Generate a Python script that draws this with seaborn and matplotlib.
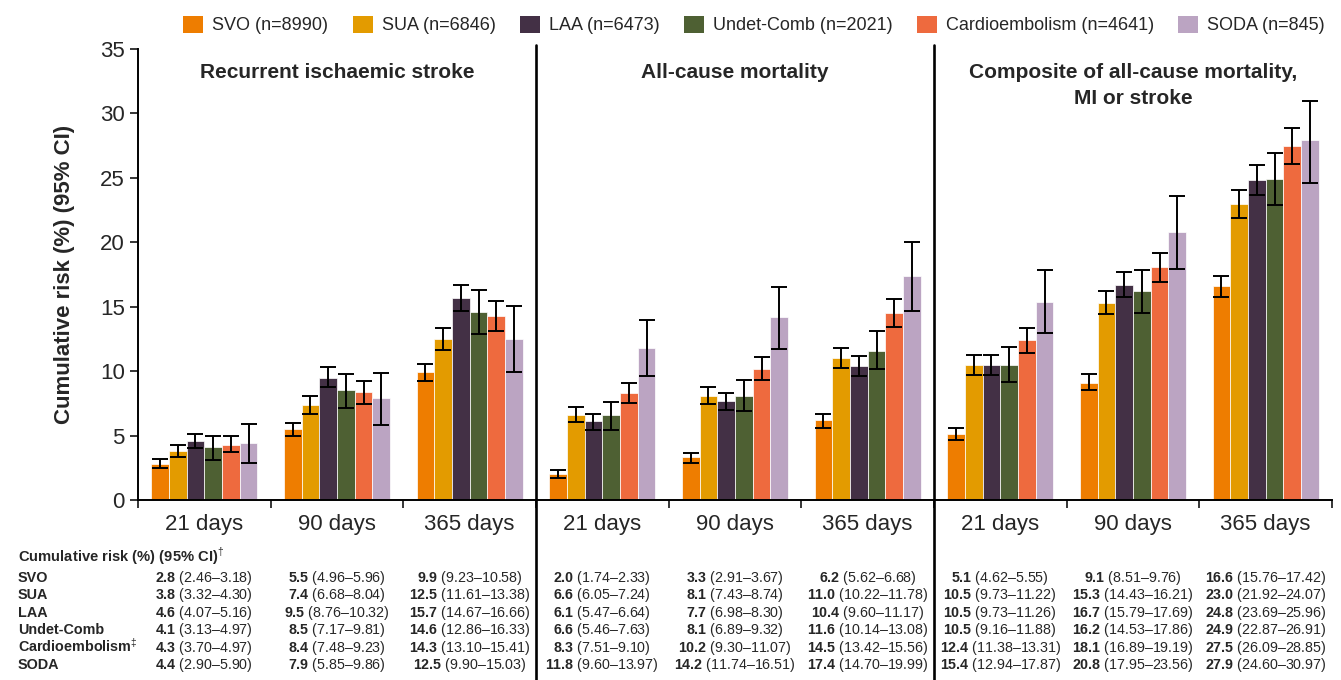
import numpy as np
import pandas as pd
import matplotlib
matplotlib.use("Agg")
import matplotlib.pyplot as plt
import matplotlib.transforms as mtransforms
from matplotlib.patches import Patch
import seaborn as sns

# ---------------- data ----------------
subtypes = ["SVO", "SUA", "LAA", "Undet-Comb", "Cardioembolism", "SODA"]
n_patients = [8990, 6846, 6473, 2021, 4641, 845]
table_labels = ["SVO", "SUA", "LAA", "Undet-Comb", "Cardioembolism$^{\u2021}$", "SODA"]
outcomes = ["Recurrent ischaemic stroke", "All-cause mortality",
            "Composite of all-cause mortality,\nMI or stroke"]
timepoints = ["21 days", "90 days", "365 days"]
colors = ["#EE7D00", "#E39B00", "#433045", "#4E6033", "#EE6A3E", "#BBA4C2"]

# rows: timepoint (21, 90, 365 days); columns: subtypes
stroke_risk = [[2.8, 3.8, 4.6, 4.1, 4.3, 4.4],
               [5.5, 7.4, 9.5, 8.5, 8.4, 7.9],
               [9.9, 12.5, 15.7, 14.6, 14.3, 12.5]]
stroke_lo = [[2.46, 3.32, 4.07, 3.13, 3.70, 2.90],
             [4.96, 6.68, 8.76, 7.17, 7.48, 5.85],
             [9.23, 11.61, 14.67, 12.86, 13.10, 9.90]]
stroke_hi = [[3.18, 4.30, 5.16, 4.97, 4.97, 5.90],
             [5.96, 8.04, 10.32, 9.81, 9.23, 9.86],
             [10.58, 13.38, 16.66, 16.33, 15.41, 15.03]]

mort_risk = [[2.0, 6.6, 6.1, 6.6, 8.3, 11.8],
             [3.3, 8.1, 7.7, 8.1, 10.2, 14.2],
             [6.2, 11.0, 10.4, 11.6, 14.5, 17.4]]
mort_lo = [[1.74, 6.05, 5.47, 5.46, 7.51, 9.60],
           [2.91, 7.43, 6.98, 6.89, 9.30, 11.74],
           [5.62, 10.22, 9.60, 10.14, 13.42, 14.70]]
mort_hi = [[2.33, 7.24, 6.64, 7.63, 9.10, 13.97],
           [3.67, 8.74, 8.30, 9.32, 11.07, 16.51],
           [6.68, 11.78, 11.17, 13.08, 15.56, 19.99]]

comp_risk = [[5.1, 10.5, 10.5, 10.5, 12.4, 15.4],
             [9.1, 15.3, 16.7, 16.2, 18.1, 20.8],
             [16.6, 23.0, 24.8, 24.9, 27.5, 27.9]]
comp_lo = [[4.62, 9.73, 9.73, 9.16, 11.38, 12.94],
           [8.51, 14.43, 15.79, 14.53, 16.89, 17.95],
           [15.76, 21.92, 23.69, 22.87, 26.09, 24.60]]
comp_hi = [[5.55, 11.22, 11.26, 11.88, 13.31, 17.87],
           [9.76, 16.21, 17.69, 17.86, 19.19, 23.56],
           [17.42, 24.07, 25.96, 26.91, 28.85, 30.97]]

risk_all = [stroke_risk, mort_risk, comp_risk]
lo_all = [stroke_lo, mort_lo, comp_lo]
hi_all = [stroke_hi, mort_hi, comp_hi]

# ---------------- style ----------------
sns.set_style("ticks")
plt.rcParams["font.family"] = ["Liberation Sans", "DejaVu Sans"]
plt.rcParams["mathtext.fontset"] = "custom"
plt.rcParams["mathtext.rm"] = "Liberation Sans"
plt.rcParams["mathtext.bf"] = "Liberation Sans:bold"

rows = []
slots = []
for oi, o in enumerate(outcomes):
    for ti, t in enumerate(timepoints):
        slot = f"{oi}|{t}"
        slots.append(slot)
        for si, s in enumerate(subtypes):
            rows.append(dict(slot=slot, subtype=s,
                             risk=risk_all[oi][ti][si],
                             lo=lo_all[oi][ti][si],
                             hi=hi_all[oi][ti][si]))
df = pd.DataFrame(rows)

W, H = 1341, 680
fig = plt.figure(figsize=(W / 100, H / 100), dpi=100)
ax = fig.add_axes([138 / W, 1 - 500 / H, (1332 - 138) / W, (500 - 49) / H])

sns.barplot(data=df, x="slot", y="risk", hue="subtype", order=slots,
            hue_order=subtypes, palette=colors, errorbar=None, width=0.8,
            edgecolor="white", linewidth=0.5, saturation=1, legend=False, ax=ax)

# error bars from each bar's centre
bar_containers = list(ax.containers)
for si, cont in enumerate(bar_containers):
    sub = df[df.subtype == subtypes[si]].set_index("slot").loc[slots]
    xs = [b.get_x() + b.get_width() / 2 for b in cont]
    ys = sub["risk"].values
    ax.errorbar(xs, ys, yerr=[ys - sub["lo"].values, sub["hi"].values - ys],
                fmt="none", ecolor="black", elinewidth=1.4, capsize=5.5,
                capthick=1.4, zorder=5)

ax.set_ylim(0, 35)
ax.set_xlim(-0.5, 8.5)
ax.set_yticks(np.arange(0, 36, 5))
ax.set_xticks(range(9))
ax.set_xticklabels(timepoints * 3, fontsize=16)
ax.set_xticks(np.arange(-0.5, 9, 1.0), minor=True)
ax.tick_params(axis="x", which="major", length=0, pad=10)
ax.tick_params(axis="x", which="minor", length=6, width=1.3, direction="out")
ax.tick_params(axis="y", labelsize=16, length=6, width=1.3)
ax.set_xlabel("")
ax.set_ylabel("Cumulative risk (%) (95% CI)", fontsize=16, fontweight="bold",
              labelpad=18)
sns.despine(ax=ax)
for sp in ["left", "bottom"]:
    ax.spines[sp].set_linewidth(1.4)
    ax.spines[sp].set_color("black")

# panel separators extending into the table
blend = mtransforms.blended_transform_factory(ax.transData, fig.transFigure)
for xv in [2.5, 5.5]:
    ax.plot([xv, xv], [0.0, 1 - 45 / H], color="black", lw=1.9,
            transform=blend, clip_on=False, zorder=6)

# panel titles
for oi, o in enumerate(outcomes):
    ax.text(oi * 3 + 1, 1 - 63 / H, o, transform=blend, ha="center", va="top",
            fontsize=15, fontweight="bold", linespacing=1.5)

# legend
handles = [Patch(facecolor=c, edgecolor="none") for c in colors]
labels = [f"{s} (n={n})" for s, n in zip(subtypes, n_patients)]
fig.legend(handles, labels, loc="center", bbox_to_anchor=(754 / W, 1 - 25 / H),
           ncol=6, frameon=False, fontsize=13.0, handlelength=1.1,
           handleheight=1.1, handletextpad=0.5, columnspacing=1.35,
           borderaxespad=0)

# table below the chart (text placed on its baseline)
fig.text(18 / W, 1 - 562 / H, "Cumulative risk (%) (95% CI)$^{\u2020}$",
         fontsize=10.6, fontweight="bold", va="baseline", ha="left")
for si, lab in enumerate(table_labels):
    ypix = 582 + 17.4 * si
    fig.text(18 / W, 1 - ypix / H, lab, fontsize=10.4, fontweight="bold",
             va="baseline", ha="left")
    for oi in range(3):
        for ti in range(3):
            xc = oi * 3 + ti
            r = risk_all[oi][ti][si]
            lo = lo_all[oi][ti][si]
            hi = hi_all[oi][ti][si]
            s = f"$\\mathbf{{{r:.1f}}}$ ({lo:.2f}\u2013{hi:.2f})"
            ax.text(xc, 1 - ypix / H, s, transform=blend, ha="center",
                    va="baseline", fontsize=10.3, clip_on=False)

fig.savefig("out.png", dpi=100)
